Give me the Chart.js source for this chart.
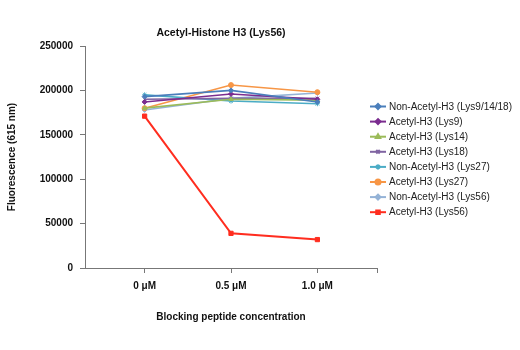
<!DOCTYPE html>
<html>
<head>
<meta charset="utf-8">
<script src="https://cdn.jsdelivr.net/npm/chart.js@4"></script>
<style>
  html, body { margin: 0; padding: 0; background: #fff; }
  #wrap { width: 520px; height: 350px; }
</style>
</head>
<body>
<div id="wrap"><canvas id="grafica" width="520" height="350"></canvas></div>
<script>
// datos
const concentraciones = ['0 μM', '0.5 μM', '1.0 μM'];
const series = [
  'Non-Acetyl-H3 (Lys9/14/18)',
  'Acetyl-H3 (Lys9)',
  'Acetyl-H3 (Lys14)',
  'Acetyl-H3 (Lys18)',
  'Non-Acetyl-H3 (Lys27)',
  'Acetyl-H3 (Lys27)',
  'Non-Acetyl-H3 (Lys56)',
  'Acetyl-H3 (Lys56)'
];
const nonAcK9K14K18 = [193000, 200000, 187000];
const acK9 = [187000, 196000, 190000];
const acK14 = [180000, 190000, 189000];
const acK18 = [190000, 191000, 191000];
const nonAcK27 = [195000, 188000, 185000];
const acK27 = [180000, 206000, 198000];
const nonAcK56 = [178000, 191000, 197000];
const acK56 = [171000, 39000, 32000];
const yTicks = [0, 50000, 100000, 150000, 200000, 250000];

const valores = [nonAcK9K14K18, acK9, acK14, acK18, nonAcK27, acK27, nonAcK56, acK56];
const colores = ['#4a7ebb', '#7b2c8f', '#9bbb59', '#8064a2', '#4bacc6', '#f79646', '#95b3d7', '#ff2d1f'];
const marcas = ['rectRot', 'rectRot', 'triangle', 'crossRot', 'star', 'circle', 'rectRot', 'rect'];

const fuente = "'Liberation Sans', Arial, sans-serif";
const xMin = -0.69, xMax = 2.69;

// leyenda y titulo dibujados a mano
const leyendaPlugin = {
  id: 'leyenda',
  afterDraw(chart) {
    const ctx = chart.ctx;
    ctx.save();
    ctx.fillStyle = '#111';
    ctx.font = 'bold 10.5px ' + fuente;
    ctx.textAlign = 'center';
    ctx.textBaseline = 'middle';
    ctx.fillText('Acetyl-Histone H3 (Lys56)', 221, 33);

    ctx.font = '10px ' + fuente;
    ctx.textAlign = 'left';
    chart.data.datasets.forEach((ds, i) => {
      const y = 106.5 + i * 15.1;
      ctx.strokeStyle = ds.borderColor;
      ctx.lineWidth = 2;
      ctx.beginPath();
      ctx.moveTo(370, y);
      ctx.lineTo(386, y);
      ctx.stroke();
      Chart.helpers.drawPoint(ctx, {
        pointStyle: ds.pointStyle, radius: 2.5, rotation: 0, borderWidth: 1
      }, 378, y);
      ctx.fillStyle = ds.borderColor;
      ctx.fill();
      ctx.fillStyle = '#222';
      ctx.fillText(ds.label, 389, y + 0.5);
    });
    ctx.restore();
  }
};

const fuenteEje = { family: fuente, size: 10, weight: 'bold' };

const ctx = document.getElementById('grafica');

new Chart(ctx, {
  type: 'line',
  data: {
    datasets: series.map((nombre, i) => ({
      label: nombre,
      data: valores[i].map((v, j) => ({ x: j, y: v })),
      borderColor: colores[i],
      backgroundColor: colores[i],
      borderWidth: i === 7 ? 2 : 1.6,
      pointStyle: marcas[i],
      pointRadius: i === 7 ? 3 : 2.5,
      pointBorderWidth: 1,
      tension: 0
    }))
  },
  plugins: [leyendaPlugin],
  options: {
    responsive: false,
    animation: false,
    layout: { padding: { top: 46, right: 143, left: 0, bottom: 0 } },
    plugins: {
      legend: { display: false },
      title: { display: false },
      tooltip: { enabled: false }
    },
    scales: {
      x: {
        type: 'linear',
        min: xMin,
        max: xMax,
        afterBuildTicks(scale) {
          scale.ticks = [0, 1, 2, xMax].map(v => ({ value: v }));
        },
        afterFit(scale) { scale.height = 82; },
        ticks: {
          color: '#111',
          padding: 7,
          maxRotation: 0,
          font: fuenteEje,
          callback: (v) => Number.isInteger(v) && concentraciones[v] !== undefined ? concentraciones[v] : ''
        },
        grid: { drawOnChartArea: false, tickLength: 5, color: '#777' },
        border: { color: '#777', width: 1 },
        title: {
          display: true,
          text: 'Blocking peptide concentration',
          color: '#111',
          font: fuenteEje,
          padding: { top: 0, bottom: 27 }
        }
      },
      y: {
        min: 0,
        max: 250000,
        afterBuildTicks(scale) {
          scale.ticks = yTicks.map(v => ({ value: v }));
        },
        afterFit(scale) { scale.width = 85; },
        ticks: {
          color: '#111',
          padding: 7,
          font: fuenteEje,
          callback: (v) => String(v)
        },
        grid: { drawOnChartArea: false, tickLength: 5, color: '#777' },
        border: { color: '#777', width: 1 },
        title: {
          display: true,
          text: 'Fluorescence (615 nm)',
          color: '#111',
          font: fuenteEje,
          padding: { top: 6, bottom: 0 }
        }
      }
    }
  }
});
</script>
</body>
</html>
